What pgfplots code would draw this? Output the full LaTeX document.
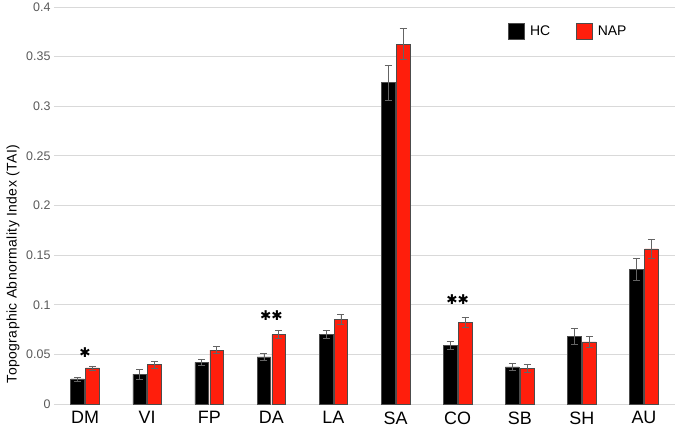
\documentclass[border=0pt]{standalone}
\usepackage{pgfplots}
\pgfplotsset{compat=1.18}
\usepackage{pgfplotstable}
\usepackage{fontspec}
\setmainfont{Liberation Sans}
\newfontfamily\labfont[LetterSpace=3]{Liberation Sans}
\newfontfamily\symfont{DejaVu Sans}
\definecolor{napred}{RGB}{255,30,12}
\definecolor{gridgray}{RGB}{217,217,217}
\definecolor{ticktext}{RGB}{89,89,89}
\definecolor{errgray}{RGB}{100,100,100}
\pgfplotstableread{
x hc hce nap nape
0 0.0252 0.0020 0.0363 0.0020
1 0.0300 0.0048 0.0396 0.0037
2 0.0420 0.0032 0.0544 0.0034
3 0.0474 0.0037 0.0698 0.0040
4 0.0698 0.0040 0.0856 0.0050
5 0.3237 0.0178 0.3627 0.0158
6 0.0587 0.0040 0.0822 0.0050
7 0.0373 0.0038 0.0359 0.0040
8 0.0680 0.0084 0.0625 0.0059
9 0.1356 0.0110 0.1562 0.0094
}\datatable
\begin{document}
\begin{tikzpicture}
\begin{axis}[
  scale only axis,
  width=621bp, height=397bp,
  xmin=-0.5, xmax=9.5,
  ymin=0, ymax=0.4,
  ytick={0,0.05,0.1,0.15,0.2,0.25,0.3,0.35,0.4},
  yticklabels={0,0.05,0.1,0.15,0.2,0.25,0.3,0.35,0.4},
  xtick={0,1,2,3,4,5,6,7,8,9},
  xticklabels={DM,VI,FP,DA,LA,SA,CO,SB,SH,AU},
  x tick label style={font=\fontsize{18}{18}\selectfont, text=black, yshift=-4bp},
  y tick label style={font=\fontsize{12.5}{12.5}\selectfont, text=ticktext},
  major tick length=0pt,
  ymajorgrids,
  grid style={gridgray, line width=0.9bp},
  axis line style={draw=none},
  ylabel={Topographic Abnormality Index (TAI)},
  ylabel style={font=\labfont\fontsize{14}{14}\selectfont, text=black},
  every axis y label/.append style={at={(ticklabel cs:0.36)}, xshift=-3bp},
  ybar, bar width=0.22,
  clip=false,
  legend style={draw=none, fill=none, inner sep=0pt, at={(0.7315,0.9605)}, anchor=north west,
    font=\fontsize{14}{14}\selectfont, legend columns=2,
    nodes={inner sep=0pt},
    /tikz/every even column/.append style={column sep=26bp}},
  legend image code/.code={\draw[#1, draw=black!70, line width=0.6bp] (0bp,-8.3bp) rectangle (16bp,8.3bp); \path (21bp,0bp);},
]
\addplot[fill=black, draw=black!70, line width=0.6bp, bar shift=-0.12,
  error bars/.cd, y dir=both, y explicit,
  error bar style={errgray, line width=0.8bp},
  error mark options={rotate=90, errgray, mark size=3.5bp, line width=0.8bp}]
  table[x=x, y=hc, y error=hce] {\datatable};
\addlegendentry{HC}
\addplot[fill=napred, draw=black!70, line width=0.6bp, bar shift=0.12,
  error bars/.cd, y dir=both, y explicit,
  error bar style={errgray, line width=0.8bp},
  error mark options={rotate=90, errgray, mark size=3.5bp, line width=0.8bp}]
  table[x=x, y=nap, y error=nape] {\datatable};
\addlegendentry{NAP}
\node[font=\symfont\fontsize{13.5}{13.5}\selectfont] at (axis cs:0,0.052) {✱};
\node[font=\symfont\fontsize{13.5}{13.5}\selectfont] at (axis cs:3,0.089) {✱✱};
\node[font=\symfont\fontsize{13.5}{13.5}\selectfont] at (axis cs:6,0.105) {✱✱};
\end{axis}
\pgfresetboundingbox
\useasboundingbox ([xshift=-54bp,yshift=-23bp]current axis.south west) rectangle ([xshift=2bp,yshift=7bp]current axis.north east);
\end{tikzpicture}
\end{document}
